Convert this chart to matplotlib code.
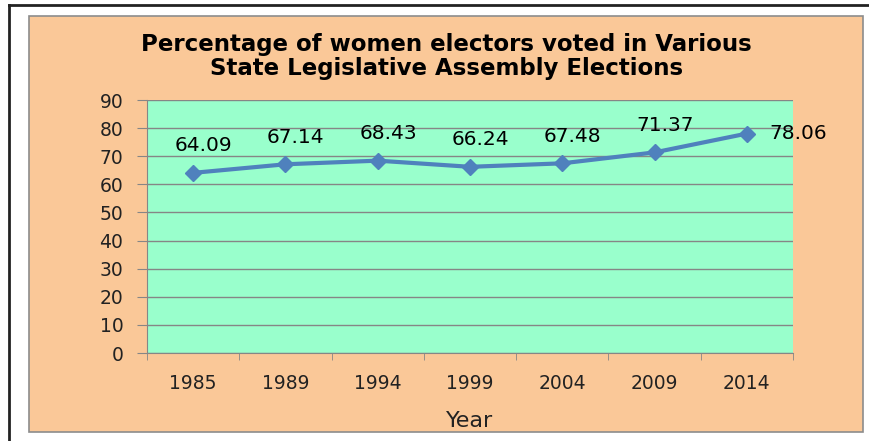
import matplotlib.pyplot as plt
from matplotlib.patches import Rectangle
from matplotlib.lines import Line2D

# data
years = ['1985', '1989', '1994', '1999', '2004', '2009', '2014']
women_voted = [64.09, 67.14, 68.43, 66.24, 67.48, 71.37, 78.06]

fig = plt.figure(figsize=(8.7, 4.41), dpi=100)
fig.patch.set_facecolor('white')

# orange chart area and outer frame
fig.patches.append(Rectangle((0.0333, 0.0204), 0.9586, 0.9433, transform=fig.transFigure,
                             facecolor='#FAC898', edgecolor='#8C8C8C', linewidth=1.2, zorder=-1))
fig.lines.append(Line2D([0.0103, 1.0], [0.9887, 0.9887], transform=fig.transFigure,
                        color='#222222', linewidth=2, zorder=-1))
fig.lines.append(Line2D([0.0103, 0.0103], [0.0, 0.9887], transform=fig.transFigure,
                        color='#222222', linewidth=2, zorder=-1))

ax = fig.add_axes([0.169, 0.1995, 0.7425, 0.5737])
ax.set_facecolor('#99FFCC')

x = list(range(len(years)))
ax.plot(x, women_voted, color='#4F81BD', linewidth=3, marker='D', markersize=8,
        markerfacecolor='#4F81BD', markeredgecolor='#4F81BD', zorder=3)

for i, v in enumerate(women_voted):
    if i == len(women_voted) - 1:
        ax.annotate(f'{v:.2f}', (i, v), xytext=(16, 0), textcoords='offset points',
                    ha='left', va='center', fontsize=14.5, color='black')
    else:
        ax.annotate(f'{v:.2f}', (i, v), xytext=(7.5, 19.5), textcoords='offset points',
                    ha='center', va='center', fontsize=14.5, color='black')

ax.set_xlim(-0.5, len(years) - 0.5)
ax.set_ylim(0, 90)
ax.set_yticks(range(0, 91, 10))
ax.set_xticks(x)
ax.set_xticklabels(years)
ax.set_xticks([i - 0.5 for i in range(len(years) + 1)], minor=True)
ax.tick_params(axis='x', which='major', length=0, pad=15, labelsize=13.5, labelcolor='#222222')
ax.tick_params(axis='x', which='minor', length=5, color='#868686')
ax.tick_params(axis='y', length=7, color='#868686', labelsize=13.5, labelcolor='#222222', pad=10)

ax.grid(axis='y', color='#868686', linewidth=1)
ax.set_axisbelow(True)
for side in ['top', 'right']:
    ax.spines[side].set_visible(False)
for side in ['left', 'bottom']:
    ax.spines[side].set_color('#868686')

ax.set_xlabel('Year', fontsize=16, color='#222222', labelpad=13)

fig.text(0.513, 0.872, 'Percentage of women electors voted in Various\nState Legislative Assembly Elections',
         ha='center', va='center', fontsize=16.5, fontweight='bold', linespacing=1.05)

plt.savefig('out.png', dpi=100)
